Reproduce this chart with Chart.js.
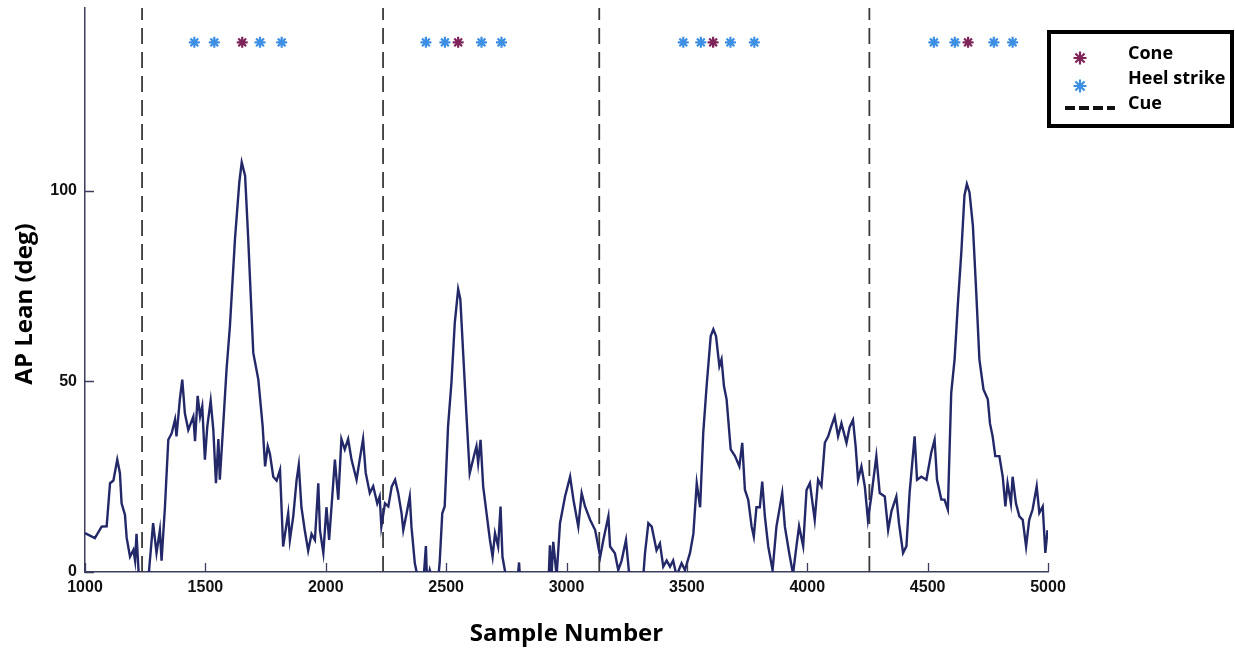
<!DOCTYPE html>
<html>
<head>
<meta charset="utf-8">
<title>AP Lean</title>
<script src="https://cdn.jsdelivr.net/npm/chart.js@4.4.1/dist/chart.umd.min.js"></script>
<style>
  html, body { margin: 0; padding: 0; background: #fff; }
  canvas { display: block; }
</style>
</head>
<body>
<canvas id="leanChart" width="1235" height="651"></canvas>
<script>
// values
const sampleNumbers = [
  1000, 1041, 1069, 1090, 1104, 1118, 1134, 1145, 1152, 1166, 1173, 1187, 1201, 1208, 1214, 1226, 1260,
  1283, 1297, 1311, 1318, 1332, 1346, 1360, 1374, 1380, 1394, 1404, 1415, 1429, 1450, 1457, 1468, 1478,
  1487, 1498, 1508, 1522, 1533, 1544, 1554, 1560, 1572, 1588, 1602, 1623, 1641, 1651, 1665, 1678, 1699,
  1720, 1738, 1748, 1759, 1768, 1782, 1796, 1810, 1823, 1844, 1851, 1865, 1879, 1888, 1899, 1913, 1927,
  1941, 1955, 1969, 1976, 1990, 2003, 2014, 2028, 2038, 2052, 2065, 2079, 2093, 2107, 2128, 2141, 2155,
  2166, 2183, 2197, 2214, 2224, 2231, 2246, 2260, 2274, 2288, 2301, 2315, 2322, 2336, 2349, 2356, 2370,
  2384, 2405, 2416, 2421, 2432, 2446, 2465, 2473, 2484, 2494, 2508, 2522, 2536, 2550, 2559, 2570, 2584,
  2598, 2615, 2626, 2633, 2643, 2654, 2668, 2682, 2693, 2703, 2716, 2726, 2734, 2748, 2795, 2803, 2808,
  2925, 2931, 2938, 2945, 2959, 2973, 2994, 3015, 3029, 3049, 3063, 3077, 3098, 3119, 3140, 3153, 3174,
  3181, 3201, 3215, 3229, 3247, 3261, 3319, 3326, 3340, 3354, 3374, 3388, 3402, 3416, 3430, 3443, 3457,
  3478, 3492, 3513, 3527, 3541, 3555, 3568, 3582, 3599, 3610, 3621, 3635, 3644, 3654, 3665, 3682, 3700,
  3718, 3730, 3741, 3755, 3769, 3778, 3789, 3803, 3813, 3824, 3838, 3856, 3872, 3886, 3896, 3907, 3925,
  3941, 3955, 3966, 3983, 3997, 4011, 4031, 4045, 4059, 4073, 4087, 4100, 4114, 4128, 4142, 4163, 4176,
  4190, 4201, 4211, 4225, 4239, 4252, 4266, 4287, 4301, 4322, 4336, 4350, 4370, 4381, 4398, 4412, 4425,
  4446, 4456, 4474, 4495, 4515, 4529, 4539, 4557, 4570, 4584, 4598, 4612, 4626, 4640, 4653, 4663, 4674,
  4688, 4702, 4715, 4732, 4750, 4759, 4770, 4781, 4798, 4812, 4823, 4832, 4846, 4853, 4867, 4881, 4895,
  4909, 4922, 4936, 4953, 4964, 4978, 4989, 4998
];
const apLean = [
  10.2, 8.9, 11.9, 12, 23.3, 24, 29.5, 26, 18, 15, 9, 4, 5.8, 3, 10, -4, -4,
  12.8, 5, 11, 3, 17, 34.7, 36.4, 40, 35.6, 45.3, 50.5, 41.6, 37.3, 40.8, 34.3, 46.2, 40.8,
  43.5, 29.5, 38.2, 44.9, 37.3, 23.3, 34.9, 24.2, 36.4, 53.2, 64.6, 87.4, 102.3, 107.5, 104, 87.4, 57.5,
  50.5, 38.2, 27.7, 33, 31, 25, 24, 26.8, 6.7, 15.4, 8.4, 14.6, 24.2, 28.1, 17, 10.9, 5.6,
  10, 8.4, 23.3, 10.9, 5, 17, 8.4, 20.7, 29.5, 19, 34.9, 32.2, 34.9, 29.5, 24.2, 29.5, 34.9,
  26, 20.7, 22.5, 18, 19.8, 11.9, 18, 17.2, 22.4, 24.2, 20.7, 15.4, 11, 15.4, 19.8, 11.9, 2.3,
  -2, -3, 6.8, -3, 0.5, -3, -3, 2.3, 15.4, 17.2, 38.2, 49.6, 65.4, 74.2, 71.6, 58.4, 41.7,
  25.9, 30.3, 33, 28.6, 34.7, 22.4, 15.4, 8.4, 4, 10.2, 6.7, 17.2, 4, -1, -3, 2.5, -3,
  -3, 7, -1, 7.9, -1, 12.8, 19.8, 25, 18.9, 11.9, 20.7, 17.2, 13.7, 11, 4, 8.4, 14.6,
  6.7, 4.9, 0.5, 3, 8.4, -1, -1, 4.9, 12.8, 11.9, 5.7, 7.5, 1.4, 3, 1.4, 3, -1,
  2.3, 0.5, 5, 10, 23.3, 17, 36.5, 48.8, 61.9, 63.7, 61.9, 54, 55.8, 48.8, 45.3, 32.2, 30.4,
  27.7, 33.9, 21.6, 18.9, 11.9, 9.3, 17, 17, 23.7, 14.6, 6.7, 0.5, 11.9, 17, 20.7, 11.9, 5,
  -0.5, 6.7, 12, 6.8, 21.5, 23.3, 13.7, 24.2, 22.5, 33.9, 35.6, 38.2, 40.8, 35.6, 39, 33.9, 38,
  39.9, 33, 24.2, 27.7, 22.5, 13.7, 19.8, 30.4, 20.7, 19.8, 11, 16, 19.8, 12.8, 5, 6.8, 20.7,
  35.6, 24.2, 25, 24.2, 31.3, 34.7, 24.2, 19, 19, 16.4, 47, 55.8, 70.7, 83.9, 98.8, 101.8, 99.6,
  90.9, 73.3, 55.8, 47.9, 45.3, 39, 35.6, 30.4, 30.4, 25, 17.2, 23.3, 18, 25, 18, 14.6, 13.7,
  6.7, 13.7, 16.4, 22.5, 15.5, 17.2, 5, 11
];
const cueSamples = [1237, 2238, 3136, 4258];
const heelStrikeSamples = [1454, 1537, 1727, 1817, 2416, 2495, 2647, 2730, 3485, 3558, 3681, 3780, 4526, 4613, 4775, 4853];
const coneSamples = [1653, 2550, 3609, 4668];
const markerLevel = 139;
const xTicks = [1000, 1500, 2000, 2500, 3000, 3500, 4000, 4500, 5000];
const yTicks = [0, 50, 100];

const lineColor = '#232868';
const heelColor = '#3d8fe3';
const coneColor = '#7e2459';
const cueColor = '#3a3a3a';
const axisColor = '#3b3e5e';

Chart.defaults.font.family = '"Liberation Sans", Arial, sans-serif';
Chart.defaults.color = '#111';

const leanPoints = sampleNumbers.map((s, i) => ({ x: s, y: apLean[i] }));

const cueSets = cueSamples.map(c => ({
  type: 'line',
  label: 'Cue',
  data: [{ x: c, y: 0 }, { x: c, y: 148 }],
  borderColor: cueColor,
  borderWidth: 1.8,
  borderDash: [16, 8],
  pointRadius: 0,
  order: 3
}));

// inward ticks (matlab style)
const innerTicks = {
  id: 'innerTicks',
  afterDraw(chart) {
    const ctx = chart.ctx;
    const { left, bottom } = chart.chartArea;
    const xs = chart.scales.x, ys = chart.scales.y;
    ctx.save();
    ctx.strokeStyle = axisColor;
    ctx.lineWidth = 1.3;
    ctx.beginPath();
    xTicks.forEach(v => {
      const px = Math.round(xs.getPixelForValue(v)) + 0.5;
      ctx.moveTo(px, bottom);
      ctx.lineTo(px, bottom - 9);
    });
    yTicks.forEach(v => {
      const py = Math.round(ys.getPixelForValue(v)) + 0.5;
      ctx.moveTo(left, py);
      ctx.lineTo(left + 9, py);
    });
    ctx.stroke();
    ctx.restore();
  }
};

function drawStar(ctx, x, y, r, color) {
  ctx.save();
  ctx.strokeStyle = color;
  ctx.lineWidth = 2.2;
  ctx.beginPath();
  for (let k = 0; k < 4; k++) {
    const a = k * Math.PI / 4;
    ctx.moveTo(x - r * Math.cos(a), y - r * Math.sin(a));
    ctx.lineTo(x + r * Math.cos(a), y + r * Math.sin(a));
  }
  ctx.stroke();
  ctx.restore();
}

// boxed legend + rotated y title
const extras = {
  id: 'extras',
  afterDraw(chart) {
    const ctx = chart.ctx;
    ctx.save();
    ctx.strokeStyle = '#000';
    ctx.lineWidth = 4;
    ctx.strokeRect(1049, 32, 183, 94);

    drawStar(ctx, 1080, 58, 6.5, coneColor);
    drawStar(ctx, 1080, 86, 6.5, heelColor);
    ctx.strokeStyle = '#111';
    ctx.lineWidth = 4;
    ctx.setLineDash([10, 4]);
    ctx.beginPath();
    ctx.moveTo(1065, 108);
    ctx.lineTo(1115, 108);
    ctx.stroke();
    ctx.setLineDash([]);

    ctx.fillStyle = '#000';
    ctx.font = 'bold 18px "Open Sans"';
    ctx.textAlign = 'left';
    ctx.textBaseline = 'middle';
    ctx.fillText('Cone', 1128, 54);
    ctx.fillText('Heel strike', 1128, 79);
    ctx.fillText('Cue', 1128, 104);

    ctx.translate(25, 304);
    ctx.rotate(-Math.PI / 2);
    ctx.textAlign = 'center';
    ctx.font = 'bold 24px "Open Sans"';
    ctx.fillText('AP Lean (deg)', 0, 0);
    ctx.restore();
  }
};

new Chart(document.getElementById('leanChart'), {
  type: 'line',
  data: {
    datasets: [
      {
        type: 'scatter',
        label: 'Cone',
        data: coneSamples.map(s => ({ x: s, y: markerLevel })),
        pointStyle: 'star',
        pointRadius: 5.5,
        borderColor: coneColor,
        backgroundColor: coneColor,
        borderWidth: 2.2,
        order: 0
      },
      {
        type: 'scatter',
        label: 'Heel strike',
        data: heelStrikeSamples.map(s => ({ x: s, y: markerLevel })),
        pointStyle: 'star',
        pointRadius: 5.5,
        borderColor: heelColor,
        backgroundColor: heelColor,
        borderWidth: 2.2,
        order: 1
      },
      {
        label: 'AP Lean',
        data: leanPoints,
        borderColor: lineColor,
        borderWidth: 2.4,
        pointRadius: 0,
        tension: 0,
        order: 2
      },
      ...cueSets
    ]
  },
  options: {
    responsive: false,
    animation: false,
    layout: { padding: { top: 8, right: 187, left: 0, bottom: 0 } },
    plugins: { legend: { display: false }, tooltip: { enabled: false } },
    scales: {
      x: {
        type: 'linear',
        min: 1000,
        max: 5000,
        afterBuildTicks: s => { s.ticks = xTicks.map(v => ({ value: v })); },
        afterFit: s => { s.height = 79; },
        grid: { display: false, drawTicks: false },
        border: { display: true, color: axisColor, width: 1.5 },
        ticks: {
          padding: 6,
          maxRotation: 0,
          callback: v => String(v),
          font: { size: 16, weight: 'bold' },
          color: '#111'
        },
        title: {
          display: true,
          text: 'Sample Number',
          font: { family: '"Open Sans"', size: 24, weight: 'bold' },
          color: '#000',
          padding: { top: 4, bottom: 2 }
        }
      },
      y: {
        type: 'linear',
        min: 0,
        max: 148,
        afterBuildTicks: s => { s.ticks = yTicks.map(v => ({ value: v })); },
        afterFit: s => { s.width = 85; s.paddingTop = 0; s.paddingBottom = 0; },
        grid: { display: false, drawTicks: false },
        border: { display: true, color: axisColor, width: 1.5 },
        ticks: {
          padding: 8,
          callback: v => String(v),
          font: { size: 16, weight: 'bold' },
          color: '#111'
        }
      }
    }
  },
  plugins: [innerTicks, extras]
});
</script>
</body>
</html>
